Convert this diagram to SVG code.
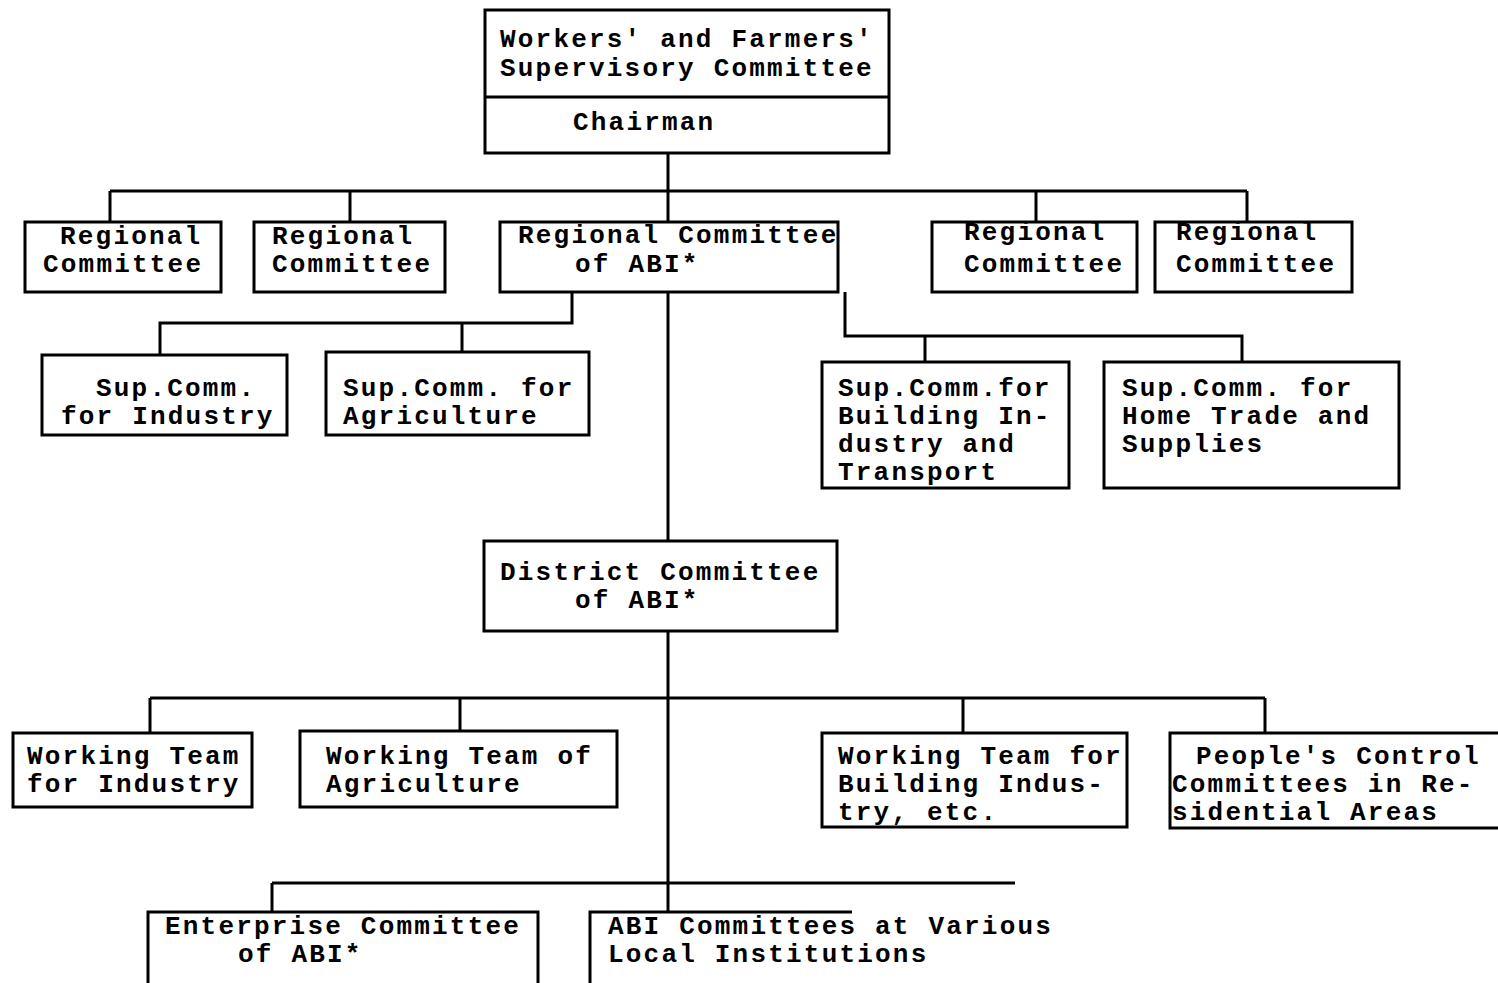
<svg xmlns="http://www.w3.org/2000/svg" width="1498" height="983" viewBox="0 0 1498 983">
<style>
.b{fill:#fff;stroke:#000;stroke-width:3}
.c{fill:none;stroke:#000;stroke-width:3}
text{font-family:"Liberation Mono","Courier New",monospace;font-weight:bold;font-size:26px;letter-spacing:2.2px;fill:#000}
</style>
<rect width="1498" height="983" fill="#fff"/>
<g id="connectors" class="c">
<path d="M668 153V191M110 191H1247M110 191V222M350 191V222M668 191V222M1036 191V222M1247 191V222"/>
<path d="M572 292V323H160V355M462 323V352"/>
<path d="M845 292V336H1242V362M925 336V362"/>
<path d="M668 292V541"/>
<path d="M668 631V883M150 698H1265M150 698V733M460 698V731M963 698V733M1265 698V733"/>
<path d="M272 883H1015M272 883V912M668 883V912"/>
</g>
<g id="top">
<rect class="b" x="485" y="10" width="404" height="143"/>
<line class="c" x1="485" y1="97" x2="889" y2="97"/>
<text x="500" y="47">Workers' and Farmers'</text>
<text x="500" y="76">Supervisory Committee</text>
<text x="573" y="130">Chairman</text>
</g>
<g id="reg1"><rect class="b" x="25" y="222" width="196" height="70"/><text x="60" y="244">Regional</text><text x="43" y="272">Committee</text></g>
<g id="reg2"><rect class="b" x="254" y="222" width="191" height="70"/><text x="272" y="244">Regional</text><text x="272" y="272">Committee</text></g>
<g id="regabi"><rect class="b" x="500" y="222" width="338" height="70"/><text x="518" y="243">Regional Committee</text><text x="575" y="272">of ABI*</text></g>
<g id="reg4"><rect class="b" x="932" y="222" width="205" height="70"/><text x="964" y="240">Regional</text><text x="964" y="272">Committee</text></g>
<g id="reg5"><rect class="b" x="1155" y="222" width="197" height="70"/><text x="1176" y="240">Regional</text><text x="1176" y="272">Committee</text></g>
<g id="supind"><rect class="b" x="42" y="355" width="245" height="80"/><text x="96" y="396">Sup.Comm.</text><text x="61" y="424">for Industry</text></g>
<g id="supagr"><rect class="b" x="326" y="352" width="263" height="83"/><text x="343" y="396">Sup.Comm. for</text><text x="343" y="424">Agriculture</text></g>
<g id="supbld"><rect class="b" x="822" y="362" width="247" height="126"/><text x="838" y="396">Sup.Comm.for</text><text x="838" y="424">Building In-</text><text x="838" y="452">dustry and</text><text x="838" y="480">Transport</text></g>
<g id="suphome"><rect class="b" x="1104" y="362" width="295" height="126"/><text x="1122" y="396">Sup.Comm. for</text><text x="1122" y="424">Home Trade and</text><text x="1122" y="452">Supplies</text></g>
<g id="district"><rect class="b" x="484" y="541" width="353" height="90"/><text x="500" y="580">District Committee</text><text x="575" y="608">of ABI*</text></g>
<g id="wtind"><rect class="b" x="13" y="733" width="239" height="74"/><text x="27" y="764">Working Team</text><text x="27" y="792">for Industry</text></g>
<g id="wtagr"><rect class="b" x="300" y="731" width="317" height="76"/><text x="326" y="764">Working Team of</text><text x="326" y="792">Agriculture</text></g>
<g id="wtbld"><rect class="b" x="822" y="733" width="305" height="94"/><text x="838" y="764">Working Team for</text><text x="838" y="792">Building Indus-</text><text x="838" y="820">try, etc.</text></g>
<g id="people"><rect class="b" x="1170" y="733" width="340" height="95"/><text x="1196" y="764">People's Control</text><text x="1172" y="792">Committees in Re-</text><text x="1172" y="820">sidential Areas</text></g>
<g id="enterprise"><rect class="b" x="148" y="912" width="390" height="80"/><text x="165" y="934">Enterprise Committee</text><text x="238" y="962">of ABI*</text></g>
<g id="local"><path class="c" d="M590 990V912H852"/><text x="608" y="934">ABI Committees at Various</text><text x="608" y="962">Local Institutions</text></g>
</svg>
